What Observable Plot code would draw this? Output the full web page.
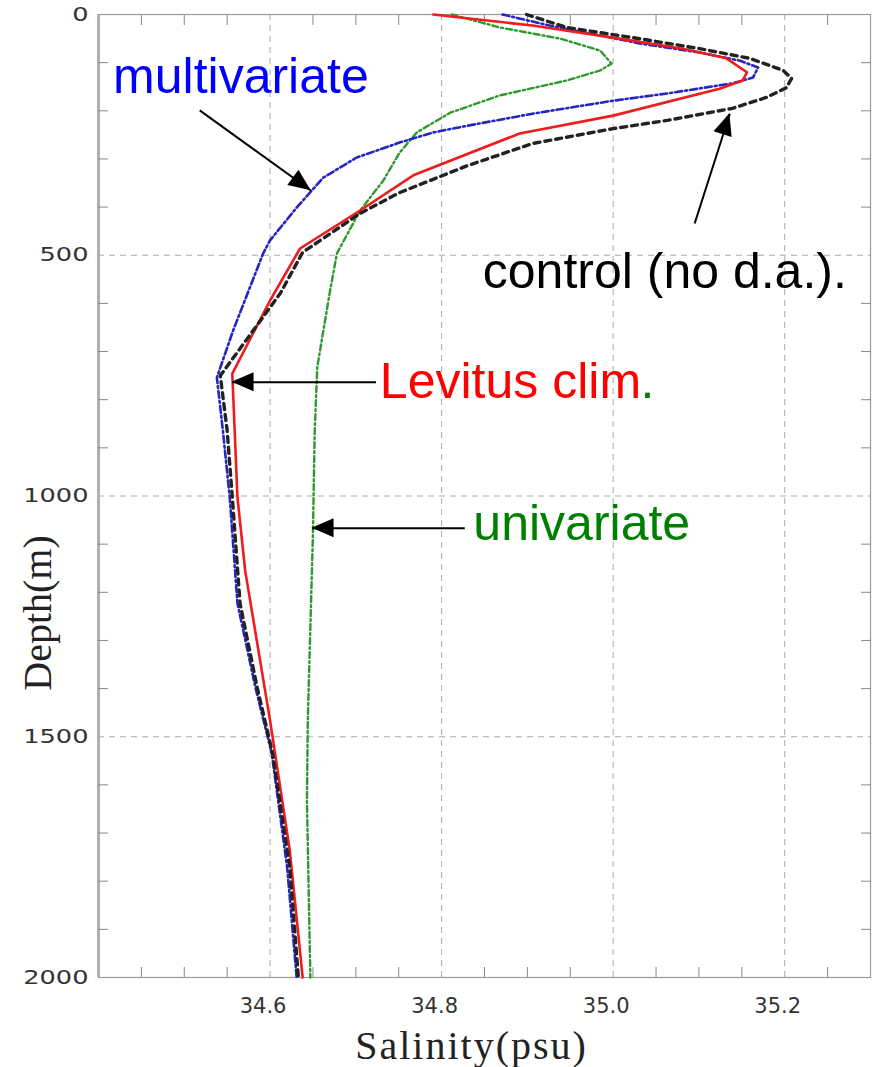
<!DOCTYPE html>
<html>
<head>
<meta charset="utf-8">
<script src="https://cdn.jsdelivr.net/npm/d3@7"></script>
<script src="https://cdn.jsdelivr.net/npm/@observablehq/plot@0.6"></script>
<style>
  html, body { margin: 0; padding: 0; background: #fff; }
  #chart svg { display: block; }
</style>
</head>
<body>
<div id="chart"></div>
<script>
// ---- Data (depth in m, salinity in psu) ----
const levDepth = [0, 23, 48, 71, 91, 120, 137, 154, 210, 247, 334, 407, 486, 594, 746, 1003, 1155, 1466, 1736, 2000];
const levSal   = [34.790, 34.906, 35.000, 35.081, 35.132, 35.156, 35.151, 35.124, 35.000, 34.891, 34.767, 34.705, 34.635, 34.600, 34.556, 34.562, 34.571, 34.600, 34.623, 34.638];

const ctlDepth = [0, 27, 48, 71, 91, 116, 133, 152, 172, 195, 220, 237, 268, 314, 370, 413, 494, 579, 750, 864, 1003, 1223, 1398, 1535, 1772, 2000];
const ctlSal   = [34.899, 34.946, 35.023, 35.101, 35.159, 35.198, 35.208, 35.202, 35.179, 35.139, 35.063, 35.000, 34.906, 34.830, 34.751, 34.705, 34.638, 34.612, 34.542, 34.550, 34.556, 34.565, 34.585, 34.603, 34.623, 34.633];

const mvDepth = [0, 23, 60, 79, 96, 110, 131, 143, 164, 179, 206, 231, 245, 266, 297, 339, 401, 469, 496, 656, 754, 864, 1003, 1223, 1398, 1535, 1772, 2000];
const mvSal   = [34.871, 34.926, 35.031, 35.101, 35.148, 35.169, 35.163, 35.139, 35.063, 35.000, 34.906, 34.830, 34.790, 34.751, 34.701, 34.662, 34.631, 34.600, 34.592, 34.557, 34.538, 34.545, 34.553, 34.562, 34.583, 34.602, 34.620, 34.631];

const uniDepth = [0, 27, 50, 75, 102, 116, 137, 168, 204, 245, 287, 345, 407, 496, 573, 733, 870, 1078, 1466, 1632, 2000];
const uniSal   = [34.812, 34.868, 34.938, 34.985, 34.998, 34.985, 34.946, 34.868, 34.810, 34.771, 34.751, 34.732, 34.705, 34.678, 34.670, 34.655, 34.652, 34.650, 34.644, 34.643, 34.647];

// Tick values
const xMajorTicks = [34.6, 34.8, 35.0, 35.2];
const xMinorTicks = [34.45, 34.5, 34.55, 34.65, 34.7, 34.75, 34.85, 34.9, 34.95, 35.05, 35.1, 35.15, 35.25];
const yMajorTicks = [0, 500, 1000, 1500, 2000];
const yMinorTicks = [100, 200, 300, 400, 600, 700, 800, 900, 1100, 1200, 1300, 1400, 1600, 1700, 1800, 1900];
const yGrid = [500, 1000, 1500];

// Annotations (label anchor in data coordinates)
const labelText  = ["multivariate", "control (no d.a.).", "Levitus clim", ".", "univariate"];
const labelColor = ["#0000ff", "#000000", "#ff0000", "#008000", "#008000"];
const labelSal   = [34.417, 34.848, 34.728, 35.032, 34.837];
const labelDepth = [162, 569, 797, 797, 1092];

// Arrows: tail -> tip
const arrowS1 = [34.518, 35.095, 34.7235, 34.827];
const arrowD1 = [199, 434, 764, 1067];
const arrowS2 = [34.648, 35.136, 34.5557, 34.649];
const arrowD2 = [366, 206, 764, 1067];

const rows = (d, s) => d.map((v, i) => ({depth: v, sal: s[i]}));
const labels = labelText.map((t, i) => ({text: t, color: labelColor[i], sal: labelSal[i], depth: labelDepth[i]}));
const arrows = arrowS1.map((v, i) => ({s1: v, d1: arrowD1[i], s2: arrowS2[i], d2: arrowD2[i]}));

const arrowHeads = (index, scales) => {
  const g = d3.create("svg:g");
  for (const a of arrows) {
    const x1 = scales.x(a.s1), y1 = scales.y(a.d1), x2 = scales.x(a.s2), y2 = scales.y(a.d2);
    const ang = Math.atan2(y2 - y1, x2 - x1);
    const L = 22, W = 9.5;
    const bx = x2 - L * Math.cos(ang), by = y2 - L * Math.sin(ang);
    const px = -Math.sin(ang) * W, py = Math.cos(ang) * W;
    g.append("path")
      .attr("d", `M${x2},${y2}L${bx + px},${by + py}L${bx - px},${by - py}Z`)
      .attr("fill", "#000");
  }
  return g.node();
};

const chart = Plot.plot({
  width: 875,
  height: 1067,
  marginLeft: 98,
  marginRight: 5,
  marginTop: 14,
  marginBottom: 90,
  style: {background: "#fff", fontFamily: "DejaVu Sans"},
  x: {domain: [34.4, 35.3], axis: null},
  y: {domain: [0, 2000], reverse: true, axis: null},
  marks: [
    // grid
    Plot.ruleX(xMajorTicks, {stroke: "#aaa", strokeDasharray: "6,5", strokeWidth: 1}),
    Plot.ruleY(yGrid, {stroke: "#aaa", strokeDasharray: "6,5", strokeWidth: 1}),
    Plot.frame({stroke: "#999", strokeWidth: 1.2}),
    Plot.ruleX([34.4], {stroke: "#b0b0b0", strokeWidth: 3}),
    // minor ticks (inward)
    Plot.axisX(xMinorTicks, {anchor: "bottom", tickSize: -10, tickFormat: () => "", stroke: "#888"}),
    Plot.axisX(xMinorTicks, {anchor: "top", tickSize: -10, tickFormat: () => "", stroke: "#888"}),
    Plot.axisY(yMinorTicks, {anchor: "left", tickSize: -10, tickFormat: () => "", stroke: "#888"}),
    Plot.axisY(yMinorTicks, {anchor: "right", tickSize: -10, tickFormat: () => "", stroke: "#888"}),
    // tick labels (as text marks placed through the scales)
    Plot.text(xMajorTicks, {x: d => d, frameAnchor: "bottom", dy: 29, dx: -7, text: d => d.toFixed(1), fontSize: 21, fontFamily: "DejaVu Sans", fill: "#333", lineAnchor: "middle", textAnchor: "middle"}),
    Plot.axisY(yMajorTicks, {anchor: "left", tickSize: 0, tickPadding: 10, tickFormat: d => String(d), fill: "#333"}),
    // axis titles
    Plot.text(["Salinity(psu)"], {frameAnchor: "bottom", dx: -13, dy: 69, fontSize: 40, fontFamily: "Liberation Serif", fill: "#222", lineAnchor: "middle", textAnchor: "middle"}),
    Plot.text(["Depth(m)"], {frameAnchor: "left", dx: -60, dy: 117, rotate: -90, fontSize: 40, fontFamily: "Liberation Serif", fill: "#222", lineAnchor: "middle", textAnchor: "middle"}),
    // profiles
    Plot.line(rows(uniDepth, uniSal), {x: "sal", y: "depth", stroke: "#2e9a2e", strokeWidth: 2.4, strokeDasharray: "6,3,2,3"}),
    Plot.line(rows(mvDepth, mvSal), {x: "sal", y: "depth", stroke: "#2525c0", strokeWidth: 2.6, strokeDasharray: "7,3,2,3"}),
    Plot.line(rows(levDepth, levSal), {x: "sal", y: "depth", stroke: "#ee1c1c", strokeWidth: 2.6}),
    Plot.line(rows(ctlDepth, ctlSal), {x: "sal", y: "depth", stroke: "#222", strokeWidth: 3.4, strokeDasharray: "6,5"}),
    // annotations
    Plot.link(arrows, {x1: "s1", y1: "d1", x2: "s2", y2: "d2", stroke: "#000", strokeWidth: 2}),
    arrowHeads,
    Plot.text(labels, {x: "sal", y: "depth", text: "text", fill: "color", textAnchor: "start", lineAnchor: "bottom", fontSize: 50, fontFamily: "Liberation Sans"})
  ]
});

// y tick labels: larger and horizontally widened like the reference
chart.querySelectorAll('g[aria-label="y-axis tick label"] text').forEach(t => {
  t.style.setProperty("font-size", "19px");
  t.style.setProperty("font-family", "DejaVu Sans");
  const tr = t.getAttribute("transform");
  if (tr) t.setAttribute("transform", tr + " scale(1.35,1)");
  else {
    const x = +t.getAttribute("x") || 0, y = +t.getAttribute("y") || 0;
    t.removeAttribute("x"); t.removeAttribute("y");
    t.setAttribute("transform", `translate(${x},${y}) scale(1.35,1)`);
  }
});
// axis title spacing
chart.querySelectorAll("text").forEach(t => {
  if (t.textContent === "Salinity(psu)") t.style.setProperty("letter-spacing", "2px");
});

document.getElementById("chart").appendChild(chart);
</script>
</body>
</html>
